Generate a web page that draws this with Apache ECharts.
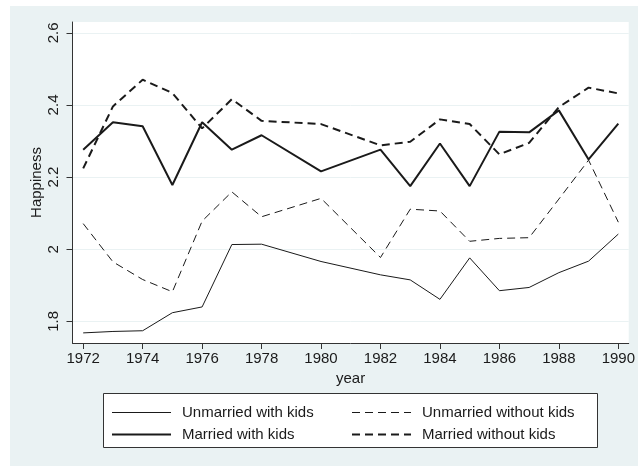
<!DOCTYPE html>
<html>
<head>
<meta charset="utf-8">
<script src="https://cdn.jsdelivr.net/npm/echarts@6/dist/echarts.min.js"></script>
<style>
  html, body { margin: 0; padding: 0; background: #ffffff; }
  #chart { width: 638px; height: 466px; }
</style>
</head>
<body>
<div id="chart"></div>
<script>
// Survey years (1979 and 1981 have no observations)
const years = [1972, 1973, 1974, 1975, 1976, 1977, 1978, 1980, 1982, 1983, 1984, 1985, 1986, 1987, 1988, 1989, 1990];

// Mean happiness by group
const unmarriedWithKids    = [1.768, 1.772, 1.774, 1.824, 1.840, 2.013, 2.014, 1.966, 1.929, 1.915, 1.861, 1.976, 1.885, 1.894, 1.935, 1.967, 2.042];
const unmarriedWithoutKids = [2.071, 1.965, 1.916, 1.882, 2.078, 2.159, 2.090, 2.141, 1.977, 2.111, 2.106, 2.022, 2.030, 2.032, 2.139, 2.247, 2.075];
const marriedWithKids      = [2.276, 2.352, 2.341, 2.178, 2.352, 2.276, 2.316, 2.216, 2.276, 2.175, 2.293, 2.175, 2.326, 2.324, 2.385, 2.249, 2.348];
const marriedWithoutKids   = [2.224, 2.396, 2.470, 2.433, 2.335, 2.416, 2.356, 2.347, 2.288, 2.298, 2.360, 2.347, 2.263, 2.295, 2.394, 2.448, 2.432];

// Tick labels
const xTicks = [1972, 1974, 1976, 1978, 1980, 1982, 1984, 1986, 1988, 1990];
const yTicks = [1.8, 2.0, 2.2, 2.4, 2.6];

const seriesNames = ['Unmarried with kids', 'Unmarried without kids', 'Married with kids', 'Married without kids'];
const seriesWidths = [1, 1, 2, 2];
const seriesDashed = [false, true, false, true];

const pairs = arr => years.map((y, i) => [y, arr[i]]);

const FONT = '"Liberation Sans", Arial, Helvetica, sans-serif';
const INK = '#1a1a1a';
const BG = '#eaf2f3';
const DASH = [8, 5];

const chart = echarts.init(document.getElementById('chart'), null, { renderer: 'canvas' });

function lineSeries(idx, values) {
  return {
    name: seriesNames[idx],
    type: 'line',
    data: pairs(values),
    symbol: 'none',
    smooth: false,
    animation: false,
    lineStyle: { color: INK, width: seriesWidths[idx], type: seriesDashed[idx] ? DASH : 'solid' },
    itemStyle: { color: INK }
  };
}

function legendItem(idx) {
  return {
    name: seriesNames[idx],
    lineStyle: { color: INK, width: seriesWidths[idx], type: seriesDashed[idx] ? DASH : 'solid' }
  };
}

const legendCommon = {
  orient: 'vertical',
  padding: 0,
  itemWidth: 59,
  itemHeight: 14,
  itemGap: 7,
  selectedMode: false,
  itemStyle: { opacity: 0 },
  textStyle: { fontFamily: FONT, fontSize: 15, color: INK, padding: [0, 0, 0, 6] }
};

chart.setOption({
  animation: false,
  backgroundColor: '#ffffff',
  graphic: [
    { type: 'rect', z: -100, shape: { x: 10, y: 6, width: 628, height: 460 }, style: { fill: BG } },
    { type: 'rect', z: -50, shape: { x: 103.5, y: 393.5, width: 494, height: 54 }, style: { fill: '#ffffff', stroke: '#333333', lineWidth: 1 } }
  ],
  grid: {
    left: 72.5, right: 6.5, top: 22, bottom: 123,
    show: true, backgroundColor: '#ffffff', borderWidth: 0
  },
  legend: [
    Object.assign({ left: 111, top: 405, data: [legendItem(0), legendItem(2)] }, legendCommon),
    Object.assign({ left: 351, top: 405, data: [legendItem(1), legendItem(3)] }, legendCommon)
  ],
  xAxis: {
    type: 'value',
    min: 1971.64, max: 1990.35,
    name: 'year',
    nameLocation: 'middle',
    nameGap: 28,
    nameMoveOverlap: false,
    nameTextStyle: { fontFamily: FONT, fontSize: 15, color: INK },
    axisLine: { show: true, onZero: false, lineStyle: { color: '#333', width: 1 } },
    axisTick: { show: true, length: 6, customValues: xTicks, lineStyle: { color: '#333' } },
    axisLabel: { customValues: xTicks, margin: 8, fontFamily: FONT, fontSize: 15, color: INK, formatter: v => String(v) },
    splitLine: { show: false }
  },
  yAxis: {
    type: 'value',
    min: 1.74, max: 2.63,
    name: 'Happiness',
    nameLocation: 'middle',
    nameRotate: 90,
    nameGap: 28,
    nameMoveOverlap: false,
    nameTextStyle: { fontFamily: FONT, fontSize: 15, color: INK },
    axisLine: { show: true, onZero: false, lineStyle: { color: '#333', width: 1 } },
    axisTick: { show: true, length: 6, customValues: yTicks, lineStyle: { color: '#333' } },
    axisLabel: {
      customValues: yTicks, rotate: 90, margin: 11,
      fontFamily: FONT, fontSize: 15, color: INK,
      formatter: v => (Math.abs(v - 2) < 1e-9 ? '2' : String(+v.toFixed(1)))
    },
    splitLine: { show: true, lineStyle: { color: BG, width: 1 } }
  },
  series: [
    lineSeries(0, unmarriedWithKids),
    lineSeries(1, unmarriedWithoutKids),
    lineSeries(2, marriedWithKids),
    lineSeries(3, marriedWithoutKids)
  ]
});
</script>
</body>
</html>
